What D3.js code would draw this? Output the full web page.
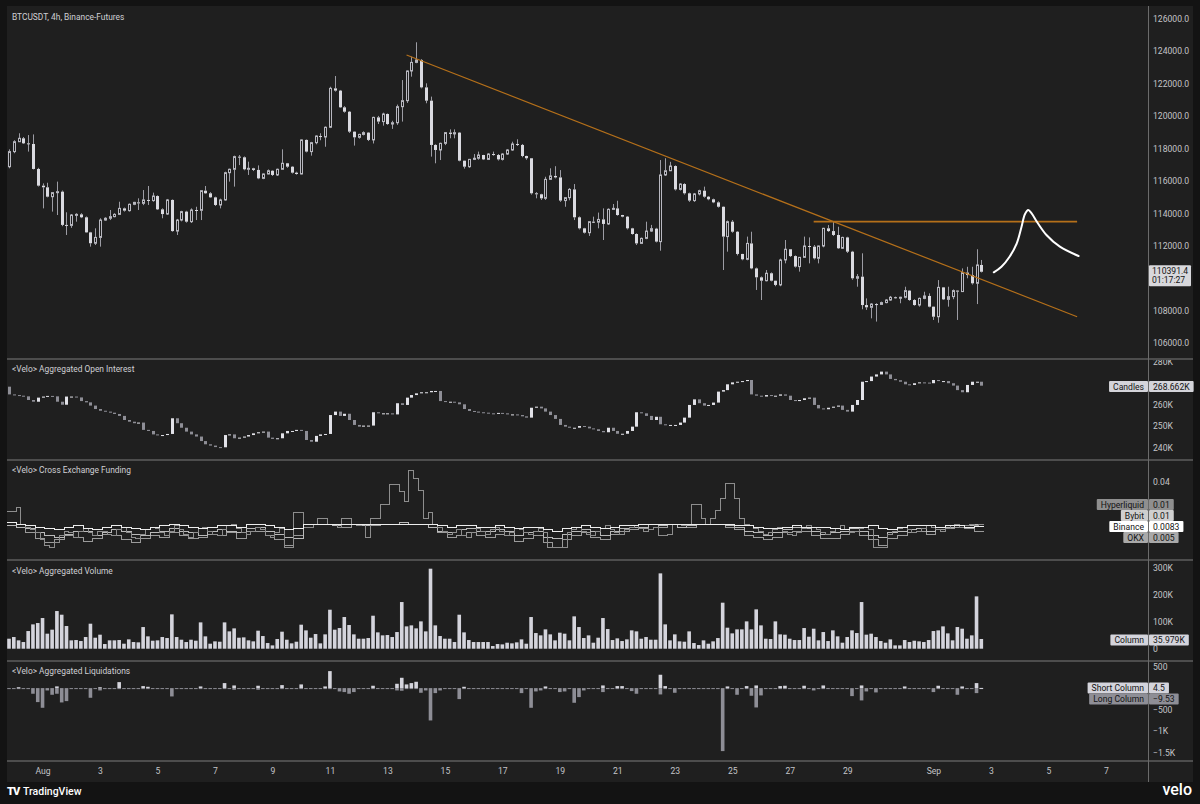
<!DOCTYPE html>
<html lang="en">
<head>
<meta charset="utf-8">
<title>BTCUSDT, 4h, Binance-Futures</title>
<script src="https://cdnjs.cloudflare.com/ajax/libs/d3/7.8.5/d3.min.js"></script>
<style>
    body { margin: 0; background: #131313; }
    #chart-area { width: 1200px; height: 804px; }
    svg text { font-family: Roboto, "Noto Sans", sans-serif; }
</style>
</head>
<body>
<div id="chart-area"></div>
<script>

// first 4h bar on screen (UTC) and bar length
const firstBarTime = Date.UTC(2025, 6, 30, 20, 0);
const barMs = 4 * 3600 * 1000;

// BTCUSDT 4h candles (open of bar 0, then open = previous close)
const priceOpen0 = 116870;
const priceClose = [
    117800,118410,118620,118310,118270,116730,115700,115600,115020,115270,
    115330,113280,113250,113890,113930,113750,112820,112150,112510,113580,
    113690,113790,113930,114300,114160,114550,114670,114610,114820,114780,
    115060,114240,113950,114820,112900,113580,114100,113480,114200,114180,
    115390,115230,114980,114510,114820,116500,116710,117490,117450,116710,
    116770,116670,116150,116420,116620,116360,116710,117080,116870,116500,
    116420,118520,117800,118350,118760,118700,119300,121700,121560,120530,
    120260,119030,118680,118860,118970,118520,119910,119650,120120,119500,
    119580,120570,120940,122770,123300,123450,121760,120940,118210,117900,
    118310,118970,118890,118970,117240,116870,117320,117390,117590,117320,
    117650,117590,117320,117650,117900,118270,118210,117530,117390,115230,
    115170,114920,116090,116300,116210,114780,114960,115470,113750,113070,
    112800,113480,113450,113620,113340,114240,114300,113890,113790,113070,
    112720,112140,112450,112900,113050,112250,116360,116620,116910,115470,
    115800,115230,114780,115190,115390,115020,114860,114670,114400,112560,
    113480,112860,111490,111160,112140,110600,110050,109840,110300,109840,
    109580,111120,111780,111360,110710,111280,111980,111940,111220,111980,
    113070,112900,112660,111840,112510,111630,109990,110090,108340,108200,
    108400,108380,108490,108650,108820,108800,108820,109230,108650,108340,
    108750,108900,108240,107620,109430,108690,108860,109230,109170,110340,
    110190,109680,110810,110391.4];
const priceHigh = [
    117940,118500,118930,118700,118820,118860,116800,115840,115880,115300,
    115950,115400,114060,113950,114000,114000,113800,112850,113070,113690,
    113750,114200,114000,114710,114350,114600,114700,114920,115430,115680,
    115270,115100,114300,114880,114850,113650,114150,114150,114300,114400,
    115400,115680,115300,115020,114900,116560,116750,117550,117590,117500,
    117180,116800,116950,116450,116700,116650,116750,117940,117100,116900,
    116560,118550,118550,118400,118800,118930,119350,121800,122460,121600,
    120600,120300,119050,118900,119050,119000,119950,120000,120200,120150,
    119700,120700,122210,122800,123650,124540,123500,122010,121190,118250,
    118350,119000,119170,119170,119000,117250,117350,117650,117800,117600,
    117700,117800,117650,117700,117950,118410,118560,118270,117550,117400,
    115300,115200,116250,116770,116900,116660,115000,115550,115800,113800,
    113100,113500,113790,114040,114300,114300,114570,114770,113900,113830,
    113100,112760,112500,113480,113280,113100,117280,117390,117170,116950,
    115850,115850,115270,115250,115450,115640,115060,114900,114730,114420,
    113550,113580,112900,111500,112560,112860,110650,110100,110500,110350,
    109850,111200,112350,111780,111400,111300,112560,112510,112040,112000,
    113100,113270,113520,113170,112550,112550,111680,110250,111530,108750,
    108450,108450,108550,108700,108900,108860,108850,109470,109250,108700,
    108800,109160,109060,108250,109880,109450,109470,109300,109250,110600,
    110700,110700,111780,111120];
const priceLow = [
    116770,117700,118400,118270,117800,116700,115650,114300,114980,114100,
    113890,113200,112660,113100,113480,113700,112800,111940,112040,111940,
    113540,113580,113750,113890,114100,114100,114500,114200,114500,114510,
    114710,114200,113690,113900,112860,112660,113500,113420,113400,113580,
    113580,115200,114950,114450,114300,114780,115950,115640,116970,116650,
    116360,116600,116100,116100,116400,116300,116300,116700,116800,116450,
    116380,116400,117750,117550,118250,118500,118100,119250,121500,120500,
    120200,118950,118170,118600,118800,118450,118300,119500,119400,119450,
    119200,119450,119650,120800,122420,123250,121700,120780,117490,117080,
    117280,118200,118620,118620,117200,116750,116800,117280,117300,117280,
    117280,117550,117250,117250,117600,117850,118150,117450,117300,115150,
    114920,114820,114820,116050,116150,114700,114400,114800,113580,113000,
    112750,112600,113400,113070,112350,113280,114200,113850,113750,113000,
    112680,112040,112100,112400,112850,112200,111690,116300,116600,115400,
    115400,115150,114700,114700,115100,114960,114800,114620,114350,110500,
    111630,112800,111400,111100,111100,110550,109270,108650,109800,109800,
    109500,109500,110910,111300,110650,110400,111250,110910,111150,110910,
    111900,112850,112600,111800,111800,111550,109900,109470,108080,108040,
    107520,107320,108350,108450,108600,108750,108450,108750,108600,108300,
    108240,108700,108200,107420,107250,108650,108240,108700,107420,109150,
    109990,109600,108400,110350];
// 110000.0 sits under the last-price box, as in the reference
const priceTicks = [106000,108000,112000,114000,116000,118000,120000,122000,124000,126000];

// drawings on the price pane: [bar, price] anchors
const trendBars = [83, 223];
const trendPrices = [123755, 107620];
const levelBars = [168, 223];
const levelPrice = 113480;
const pathBars = [205.6, 207.2, 208.9, 210.4, 211.4, 212.1, 212.8, 213.5, 214.6, 216.6, 219.4, 223.3];
const pathPrices = [110358, 110704, 111320, 112147, 113170, 113935, 114200, 113997, 113479, 112659, 111938, 111364];

// aggregated open interest, candle closes in K (open = previous close)
const oiOpen0 = 268.2;
const oiClose = [
    264.6,264.3,264.0,263.7,262.0,261.2,263.1,263.6,263.9,263.7,
    261.2,259.8,263.6,263.6,263.2,261.5,260.9,259.4,257.8,257.0,
    256.6,256.1,255.5,254.6,252.7,251.9,251.2,251.5,248.1,247.6,
    246.0,245.7,245.7,246.2,253.5,251.2,249.1,247.3,246.0,245.0,
    242.9,241.4,240.8,240.1,240.0,245.7,246.0,244.2,244.5,245.0,
    245.7,246.5,247.0,247.3,244.5,243.9,244.2,246.5,247.6,247.6,
    248.1,247.6,243.4,242.6,245.3,246.0,246.2,255.0,256.6,254.6,
    255.6,252.7,250.4,249.6,250.1,250.1,256.3,255.8,255.8,255.8,
    255.3,260.5,259.7,263.1,264.3,265.1,265.6,265.6,266.2,266.2,
    261.5,261.2,261.2,260.9,260.0,257.8,256.9,256.6,256.3,256.1,
    255.8,255.6,256.0,255.8,255.3,255.3,255.0,254.4,253.8,258.4,
    258.9,258.1,256.6,255.0,253.2,250.4,249.6,249.1,249.1,249.9,
    249.6,248.8,248.4,247.6,247.0,249.1,247.6,246.3,246.3,247.6,
    249.6,256.3,255.8,254.6,252.7,254.2,250.7,250.4,250.4,250.4,
    251.5,253.8,259.7,262.3,260.5,259.4,259.7,260.8,265.9,266.6,
    269.3,270.2,270.5,270.8,271.3,264.6,264.0,263.6,264.3,264.0,
    264.0,264.6,264.0,262.0,261.5,262.0,262.8,263.1,259.7,258.1,
    257.7,258.4,258.9,259.4,257.4,256.6,259.7,262.0,270.5,270.8,
    272.9,273.9,275.2,273.9,271.8,271.2,270.5,269.3,269.0,269.8,
    270.2,270.1,269.8,271.3,270.8,270.8,269.8,268.7,266.6,265.6,
    269.0,270.5,270.5,268.662];
// 270K sits under the "Candles" tag
const oiTicks = [240, 250, 260, 280];

// cross exchange funding, in units of 0.001 (Hyperliquid per 4h, others per 8h)
const fundHyperliquid = [
    19,19,22,10,8,6,4,-1,-5,-6,-3,2,5,4,1,5,7,4,2,5,
    5,3,2,6,8,4,1,0,3,6,8,7,4,2,5,9,6,3,1,4,
    7,8,5,3,2,6,9,10,7,4,3,5,8,6,2,1,4,7,-6,-6,
    18,18,8,8,10,14,14,10,10,8,14,14,10,9,10,1,14,14,24,24,
    38,38,33,26,48,42,34,14,18,10,8,5,3,4,6,2,1,4,7,5,
    3,6,8,5,2,4,7,6,4,3,5,7,4,-6,-6,-6,-6,4,6,8,
    5,3,2,5,7,9,6,4,3,6,8,9,7,5,6,8,2,2,3,10,
    10,9,10,24,24,14,10,14,20,28,39,39,28,14,10,9,7,5,3,4,
    6,8,5,3,2,4,7,9,8,6,4,3,5,7,9,6,4,5,7,8,
    6,-6,-6,-6,3,5,7,8,6,4,5,7,9,8,6,5,7,9,10,8,
    9,10,9,10];
const fundBybit = [
    9,8,7,4,2,1,3,5,5,2,4,6,5,3,2,4,5,7,5,4,
    2,5,6,5,4,7,8,5,3,1,0,8,10,10,9,10,10,9,10,10,
    10,11,10,10,8,5,4,6,7,5,5,6,5,2,4,5,1,0,3,5,
    6,5,2,5,7,8,8,10,9,10,8,9,10,10,10,9,8,5,4,2,
    4,6,8,7,5,3,4,5,7,5,2,1,4,5,6,7,5,8,8,9,
    9,10];
const fundBinance = [
    11,10,9,8,7,6,8,9,7,6,8,9,8,7,6,8,9,10,9,8,
    7,8,9,9,8,10,10,9,8,6,7,10,10,10,10,10,10,10,10,10,
    10,10,10,10,10,9,8,9,9,8,8,9,8,7,8,8,6,5,7,8,
    9,8,7,8,9,9,10,10,10,10,10,10,10,10,10,10,9,9,8,7,
    7,8,9,8,8,8,7,6,8,8,9,7,6,8,9,9,9,8,9,9,
    8,8.3];
const fundOKX = [
    9,8,4,0,-3,-1,2,1,-2,0,3,2,-1,-3,0,2,1,4,2,0,
    1,3,2,4,0,5,5,2,-1,-5,2,8,10,10,10,8,10,10,9,10,
    10,10,10,10,8,4,1,2,4,2,1,3,2,-2,0,2,-3,-6,-1,2,
    4,1,-1,3,5,6,7,10,8,10,8,8,10,10,10,8,6,2,1,-1,
    1,4,5,5,2,0,0,3,5,2,-1,-5,0,2,4,5,3,6,7,8,
    7,5];

// aggregated volume in K
const volume = [
    37.0,43.2,30.9,24.7,65.4,90.1,95.1,113.6,55.6,70.4,
    139.5,125.9,84.0,30.9,32.1,28.4,43.2,92.6,40.7,51.9,
    17.3,30.9,30.9,32.1,18.5,34.6,24.7,23.5,80.2,45.7,
    29.6,30.9,43.2,39.5,127.2,43.2,33.3,24.7,33.3,29.6,
    97.5,45.7,18.5,27.2,25.9,97.5,64.2,75.3,40.7,42.0,
    30.9,27.2,66.7,46.9,21.0,12.3,35.8,63.0,33.3,19.8,
    25.9,88.9,67.9,40.7,54.3,19.8,53.1,144.4,70.4,76.5,
    117.3,87.7,53.1,37.0,37.0,39.5,122.2,60.5,49.4,50.6,
    43.2,61.7,172.8,82.7,86.4,75.3,101.2,64.2,296.3,86.4,
    46.9,37.0,37.0,24.7,125.9,60.5,32.1,24.7,24.7,24.7,
    24.7,9.9,17.3,16.0,22.2,19.8,23.5,34.6,18.5,117.3,
    58.0,49.4,71.6,53.1,30.9,59.3,55.6,30.9,119.8,80.2,
    39.5,49.4,22.2,40.7,113.6,72.8,32.1,38.3,28.4,34.6,
    67.9,64.2,37.0,43.2,33.3,33.3,279.0,90.1,30.9,53.1,
    27.2,25.9,64.2,21.0,13.6,30.9,18.5,27.2,39.5,170.4,
    77.8,56.8,71.6,71.6,101.2,71.6,145.7,86.4,37.0,35.8,
    101.2,53.1,51.9,37.0,32.1,32.1,76.5,44.4,74.1,30.9,
    61.7,28.4,67.9,45.7,22.2,43.2,67.9,58.0,172.8,51.9,
    55.6,43.2,28.4,22.2,34.6,12.3,12.3,32.1,24.7,29.6,
    27.2,24.7,32.1,65.4,67.9,82.7,56.8,30.9,80.2,74.1,
    37.0,49.4,193.8,35.979];
const volumeTicks = [0, 100, 200, 300];

// aggregated liquidations (short positive, long negative)
const liqShort = [
    0,0,20,0,0,0,0,0,0,0, 40,0,0,0,0,0,0,0,0,20,
    0,0,0,140,0,0,0,0,47,31, 0,0,0,0,0,0,0,0,0,0,
    39,0,0,0,0,117,0,62,0,0, 0,0,55,0,0,0,0,70,0,0,
    0,86,0,0,0,0,39,397,0,0, 0,0,0,0,0,0,55,0,0,0,
    0,101,241,86,117,148,0,0,0,0, 0,0,0,0,0,31,0,0,0,0,
    0,0,0,0,0,0,0,0,0,0, 0,0,39,0,0,0,0,0,0,0,
    0,0,0,0,62,0,0,47,47,0, 0,0,0,0,0,0,312,47,0,0,
    0,0,0,0,0,0,0,0,0,0, 39,0,0,0,47,0,62,0,0,0,
    0,47,55,0,0,0,55,0,0,0, 62,0,0,0,0,0,0,0,62,0,
    0,0,0,0,0,0,0,39,0,0, 0,0,0,0,55,0,0,0,0,39,
    0,0,117,4.5];
const liqLong = [
    0,0,0,0,0,-132,-327,-460,-55,-156, -132,-335,-304,0,0,0,0,-226,0,-55,
    0,0,0,0,0,0,0,0,0,0, 0,0,0,0,-195,0,0,0,0,0,
    0,0,0,0,0,-16,0,-39,0,0, 0,0,-39,0,0,0,0,0,0,0,
    0,0,0,0,0,0,0,0,0,-78, -93,-132,-93,0,0,0,0,0,0,0,
    0,-55,-62,0,0,0,-109,-55,-756,-117, -55,0,0,0,-257,0,0,0,0,0,
    0,0,0,0,0,0,0,-117,0,-460, -78,-55,0,0,0,-93,-78,0,-343,-210,
    -55,0,0,0,-93,0,0,0,0,0, -70,-132,0,0,0,0,-148,0,0,-109,
    0,0,0,0,0,0,0,0,0,-1472, 0,0,-156,0,0,-179,-452,-171,0,0,
    0,0,0,0,0,0,0,0,-55,0, 0,0,0,0,0,0,-187,0,-288,-78,
    0,-101,0,0,0,0,0,0,0,0, 0,0,0,-93,0,0,0,0,-156,0,
    0,0,-117,-9.53];
const liqTicks = [500, -500, -1000, -1500];

// x axis
const dateTicks = ["2025-08-01","2025-08-03","2025-08-05","2025-08-07","2025-08-09","2025-08-11",
    "2025-08-13","2025-08-15","2025-08-17","2025-08-19","2025-08-21","2025-08-23","2025-08-25",
    "2025-08-27","2025-08-29","2025-09-01","2025-09-03","2025-09-05","2025-09-07"];
const dateLabels = ["Aug","3","5","7","9","11","13","15","17","19","21","23","25","27","29","Sep","3","5","7"];


/*
 * VeloChart - the whole TradingView-like layout with five stacked panes
 */
class VeloChart {

    constructor(parentElement) {
        this.parentElement = parentElement;
        this.initVis();
    }

    initVis() {
        let vis = this;

        vis.left = 7;
        vis.right = 1148;
        vis.edge = 1193;
        vis.panes = {
            main: [6, 358], oi: [360, 459], funding: [461, 559],
            volume: [561, 660], liq: [662, 760]
        };

        vis.svg = d3.select('#' + vis.parentElement)
            .append('svg')
            .attr('width', 1200)
            .attr('height', 804);

        vis.svg.append('rect').attr('width', 1200).attr('height', 804).attr('fill', '#131313');
        vis.svg.append('rect')
            .attr('x', vis.left).attr('y', 6)
            .attr('width', vis.edge - vis.left).attr('height', 776)
            .attr('fill', '#1f1f1f');

        // clip paths, one per pane for the marks and one for the axis labels
        let defs = vis.svg.append('defs');
        Object.entries(vis.panes).forEach(([k, p]) => {
            defs.append('clipPath').attr('id', 'clip-' + k)
                .append('rect').attr('x', vis.left).attr('y', p[0])
                .attr('width', vis.right - vis.left).attr('height', p[1] - p[0]);
            defs.append('clipPath').attr('id', 'clipax-' + k)
                .append('rect').attr('x', vis.right).attr('y', p[0])
                .attr('width', vis.edge - vis.right).attr('height', p[1] - p[0]);
        });

        vis.barTime = i => new Date(firstBarTime + i * barMs);

        // scales
        vis.x = d3.scaleTime()
            .domain([vis.barTime(-0.42), vis.barTime(237.8)])
            .range([vis.left, vis.right]);
        vis.yPrice = d3.scaleLinear().domain([106000, 126000]).range([343, 18.6]);
        vis.yOI = d3.scaleLinear().domain([240, 280]).range([447.3, 361.3]);
        vis.yFund = d3.scaleLinear().domain([0, 40]).range([538.5, 481.7]);
        vis.yVol = d3.scaleLinear().domain([0, 300]).range([648.7, 567.7]);
        vis.yLiq = d3.scaleLinear().domain([-1500, 500]).range([752.3, 666.7]);

        vis.drawPrice();
        vis.drawOpenInterest();
        vis.drawFunding();
        vis.drawVolume();
        vis.drawLiquidations();
        vis.drawFrame();
        vis.drawAxes();
        vis.drawTags();
    }

    drawPrice() {
        let vis = this;
        let g = vis.svg.append('g').attr('clip-path', 'url(#clip-main)');

        let candles = priceClose.map((c, i) => {
            let o = i === 0 ? priceOpen0 : priceClose[i - 1];
            return {
                px: Math.round(vis.x(vis.barTime(i))),
                o: o, c: c,
                h: Math.max(priceHigh[i], o, c),
                l: Math.min(priceLow[i], o, c),
                up: c >= o
            };
        });

        // wicks above and below the body
        g.selectAll('.wick-hi').data(candles).enter().append('line')
            .attr('x1', d => d.px + 0.5).attr('x2', d => d.px + 0.5)
            .attr('y1', d => vis.yPrice(d.h))
            .attr('y2', d => vis.yPrice(Math.max(d.o, d.c)))
            .attr('stroke', '#9c9ca4').attr('stroke-width', 1);
        g.selectAll('.wick-lo').data(candles).enter().append('line')
            .attr('x1', d => d.px + 0.5).attr('x2', d => d.px + 0.5)
            .attr('y1', d => vis.yPrice(Math.min(d.o, d.c)))
            .attr('y2', d => vis.yPrice(d.l))
            .attr('stroke', '#9c9ca4').attr('stroke-width', 1);

        // bodies: hollow when rising, filled when falling
        g.selectAll('.body').data(candles).enter().append('rect')
            .attr('x', d => d.up ? d.px - 0.5 : d.px - 1)
            .attr('width', d => d.up ? 2 : 3)
            .attr('y', d => vis.yPrice(Math.max(d.o, d.c)))
            .attr('height', d => Math.max(1, Math.abs(vis.yPrice(d.o) - vis.yPrice(d.c))))
            .attr('fill', d => d.up ? '#1f1f1f' : '#dadae0')
            .attr('stroke', d => d.up ? '#b8b8c0' : 'none')
            .attr('stroke-width', 1);

        // trendline and level
        g.append('line')
            .attr('x1', vis.x(vis.barTime(trendBars[0]))).attr('y1', vis.yPrice(trendPrices[0]))
            .attr('x2', vis.x(vis.barTime(trendBars[1]))).attr('y2', vis.yPrice(trendPrices[1]))
            .attr('stroke', '#b5701a').attr('stroke-width', 1.2);
        g.append('line')
            .attr('x1', vis.x(vis.barTime(levelBars[0]))).attr('y1', vis.yPrice(levelPrice))
            .attr('x2', vis.x(vis.barTime(levelBars[1]))).attr('y2', vis.yPrice(levelPrice))
            .attr('stroke', '#b5701a').attr('stroke-width', 1.8);

        // hand-drawn projection
        let pathPts = pathBars.map((b, i) => [vis.x(vis.barTime(b)), vis.yPrice(pathPrices[i])]);
        g.append('path')
            .attr('d', d3.line().curve(d3.curveCatmullRom.alpha(0.5))(pathPts))
            .attr('fill', 'none').attr('stroke', '#ffffff').attr('stroke-width', 2)
            .attr('stroke-linecap', 'round');
    }

    drawOpenInterest() {
        let vis = this;
        let g = vis.svg.append('g').attr('clip-path', 'url(#clip-oi)');

        let bars = oiClose.map((c, i) => {
            let o = i === 0 ? oiOpen0 : oiClose[i - 1];
            return { px: Math.round(vis.x(vis.barTime(i))), o: o, c: c };
        });

        g.selectAll('.oi').data(bars).enter().append('rect')
            .attr('x', d => d.px - 1).attr('width', 3)
            .attr('y', d => vis.yOI(Math.max(d.o, d.c)))
            .attr('height', d => Math.max(1, Math.abs(vis.yOI(d.o) - vis.yOI(d.c))))
            .attr('fill', d => d.c >= d.o ? '#e2e2e8' : '#8e8e96');
    }

    drawFunding() {
        let vis = this;
        let g = vis.svg.append('g').attr('clip-path', 'url(#clip-funding)');

        let series = [
            { data: fundOKX, step: 2, color: '#9a9a9a' },
            { data: fundBybit, step: 2, color: '#b9b9b9' },
            { data: fundHyperliquid, step: 1, color: '#8d8d8d' },
            { data: fundBinance, step: 2, color: '#ececec' }
        ];

        let line = d3.line().curve(d3.curveStepAfter)
            .x(d => vis.x(d[0])).y(d => vis.yFund(d[1]));

        series.forEach(s => {
            let pts = s.data.map((v, i) => [vis.barTime(i * s.step - 0.5), v]);
            pts.push([vis.barTime(s.data.length * s.step - 0.5), s.data[s.data.length - 1]]);
            g.append('path')
                .attr('d', line(pts))
                .attr('fill', 'none')
                .attr('stroke', s.color)
                .attr('stroke-width', 1)
                .attr('shape-rendering', 'crispEdges');
        });
    }

    drawVolume() {
        let vis = this;
        let g = vis.svg.append('g').attr('clip-path', 'url(#clip-volume)');

        g.selectAll('.vol').data(volume).enter().append('rect')
            .attr('x', (d, i) => vis.x(vis.barTime(i)) - 1.8)
            .attr('width', 3.6)
            .attr('y', d => vis.yVol(d))
            .attr('height', d => vis.yVol(0) - vis.yVol(d))
            .attr('fill', '#d4d4dc');
    }

    drawLiquidations() {
        let vis = this;
        let g = vis.svg.append('g').attr('clip-path', 'url(#clip-liq)');
        let zero = vis.yLiq(0);

        g.selectAll('.liq-long').data(liqLong).enter().append('rect')
            .attr('x', (d, i) => vis.x(vis.barTime(i)) - 1.8)
            .attr('width', 3.6)
            .attr('y', zero)
            .attr('height', d => Math.max(1, vis.yLiq(d) - zero))
            .attr('fill', '#8e8e96');

        g.selectAll('.liq-short').data(liqShort).enter().append('rect')
            .attr('x', (d, i) => vis.x(vis.barTime(i)) - 1.8)
            .attr('width', 3.6)
            .attr('y', d => vis.yLiq(d))
            .attr('height', d => Math.max(d > 0 ? 1 : 0, zero - vis.yLiq(d)))
            .attr('fill', '#d4d4dc');
    }

    drawFrame() {
        let vis = this;

        [359, 460, 560, 661, 761].forEach(y => {
            vis.svg.append('line')
                .attr('x1', vis.left).attr('x2', vis.edge)
                .attr('y1', y).attr('y2', y)
                .attr('stroke', '#4d4d4d').attr('stroke-width', 2);
        });
        vis.svg.append('line')
            .attr('x1', vis.right + 0.5).attr('x2', vis.right + 0.5)
            .attr('y1', 6).attr('y2', 782)
            .attr('stroke', '#6b6b6b').attr('stroke-width', 1);

        // pane titles
        let titles = [
            ['BTCUSDT, 4h, Binance-Futures', 20],
            ['<Velo> Aggregated Open Interest', 372],
            ['<Velo> Cross Exchange Funding', 473],
            ['<Velo> Aggregated Volume', 574],
            ['<Velo> Aggregated Liquidations', 674]
        ];
        titles.forEach(t => {
            vis.svg.append('text')
                .attr('x', 12).attr('y', t[1])
                .attr('font-size', '8.4px')
                .attr('fill', '#cfcfd4')
                .text(t[0]);
        });

        // footer
        vis.svg.append('text')
            .attr('x', 7).attr('y', 795)
            .attr('font-size', '11px').attr('font-weight', 900)
            .attr('fill', '#ffffff').attr('letter-spacing', '-1px')
            .text('TV');
        vis.svg.append('text')
            .attr('x', 23).attr('y', 795)
            .attr('font-size', '10.5px').attr('font-weight', 500)
            .attr('fill', '#ffffff')
            .text('TradingView');
        vis.svg.append('text')
            .attr('x', 1192).attr('y', 795)
            .attr('text-anchor', 'end')
            .attr('font-size', '16px').attr('font-weight', 500)
            .attr('fill', '#ffffff')
            .text('velo');
    }

    drawAxes() {
        let vis = this;

        let styleAxis = g => {
            g.select('.domain').remove();
            g.selectAll('text').attr('fill', '#c4c4c8').attr('font-size', '8.6px')
                .attr('font-family', 'Roboto, "Noto Sans", sans-serif');
        };

        let minus = s => s.replace('-', '\u2212');

        // right axis for one pane: clip in page space, shift inside
        let rightAxis = (pane, axis) => {
            vis.svg.append('g')
                .attr('clip-path', 'url(#clipax-' + pane + ')')
                .append('g')
                .attr('transform', 'translate(' + vis.right + ',0)')
                .call(axis.tickSize(0).tickPadding(5))
                .call(styleAxis);
        };

        rightAxis('main', d3.axisRight(vis.yPrice).tickValues(priceTicks).tickFormat(d3.format('.1f')));
        rightAxis('oi', d3.axisRight(vis.yOI).tickValues(oiTicks).tickFormat(d => d + 'K'));
        rightAxis('funding', d3.axisRight(vis.yFund).tickValues([40]).tickFormat(d => (d / 1000).toFixed(2)));
        rightAxis('volume', d3.axisRight(vis.yVol).tickValues(volumeTicks)
            .tickFormat(d => d === 0 ? '0' : d + 'K'));
        rightAxis('liq', d3.axisRight(vis.yLiq).tickValues(liqTicks)
            .tickFormat(d => minus(Math.abs(d) >= 1000 ? (d / 1000) + 'K' : String(d))));

        let parse = d3.utcParse('%Y-%m-%d');
        vis.svg.append('g')
            .attr('transform', 'translate(0,763)')
            .call(d3.axisBottom(vis.x).tickValues(dateTicks.map(parse))
                .tickFormat((d, i) => dateLabels[i]).tickSize(0).tickPadding(5))
            .call(styleAxis);
    }

    drawTags() {
        let vis = this;
        let fs = '8.6px';

        let measure = s => {
            let t = vis.svg.append('text').attr('font-size', fs).text(s);
            let w = t.node().getComputedTextLength();
            t.remove();
            return w;
        };

        // name box left of the axis, value box right of it
        let tag = (name, value, y, bg) => {
            let w = measure(name);
            vis.svg.append('rect')
                .attr('x', vis.right - w - 8).attr('y', y - 5.5)
                .attr('width', w + 8).attr('height', 11)
                .attr('rx', 1).attr('fill', bg);
            vis.svg.append('text')
                .attr('x', vis.right - 4).attr('y', y + 3)
                .attr('text-anchor', 'end').attr('font-size', fs)
                .attr('fill', '#131313').text(name);

            let wv = measure(value);
            vis.svg.append('rect')
                .attr('x', vis.right + 1).attr('y', y - 5.5)
                .attr('width', wv + 8).attr('height', 11)
                .attr('rx', 1).attr('fill', bg);
            vis.svg.append('text')
                .attr('x', vis.right + 5).attr('y', y + 3)
                .attr('font-size', fs).attr('fill', '#131313').text(value);
        };

        tag('Candles', '268.662K', 386.5, '#d4d4da');
        tag('Hyperliquid', '0.01', 504.5, '#8f8f8f');
        tag('Bybit', '0.01', 515.5, '#cfcfcf');
        tag('Binance', '0.0083', 526.5, '#ffffff');
        tag('OKX', '0.005', 537.5, '#a9a9a9');
        tag('Column', '35.979K', 640, '#d4d4dc');
        tag('Short Column', '4.5', 688, '#d4d4dc');
        tag('Long Column', '\u22129.53', 699, '#8e8e96');

        // last price box with the bar countdown
        let last = priceClose[priceClose.length - 1];
        let py = vis.yPrice(last);
        vis.svg.append('rect')
            .attr('x', vis.right + 1).attr('y', py - 6.5)
            .attr('width', 42).attr('height', 21)
            .attr('rx', 1).attr('fill', '#d8d8dc');
        vis.svg.append('text')
            .attr('x', vis.right + 4).attr('y', py + 2.5)
            .attr('font-size', fs).attr('fill', '#131313')
            .text(d3.format('.1f')(last));
        vis.svg.append('text')
            .attr('x', vis.right + 4).attr('y', py + 11.5)
            .attr('font-size', fs).attr('fill', '#131313')
            .text('01:17:27');
    }
}

new VeloChart('chart-area');

</script>
</body>
</html>
